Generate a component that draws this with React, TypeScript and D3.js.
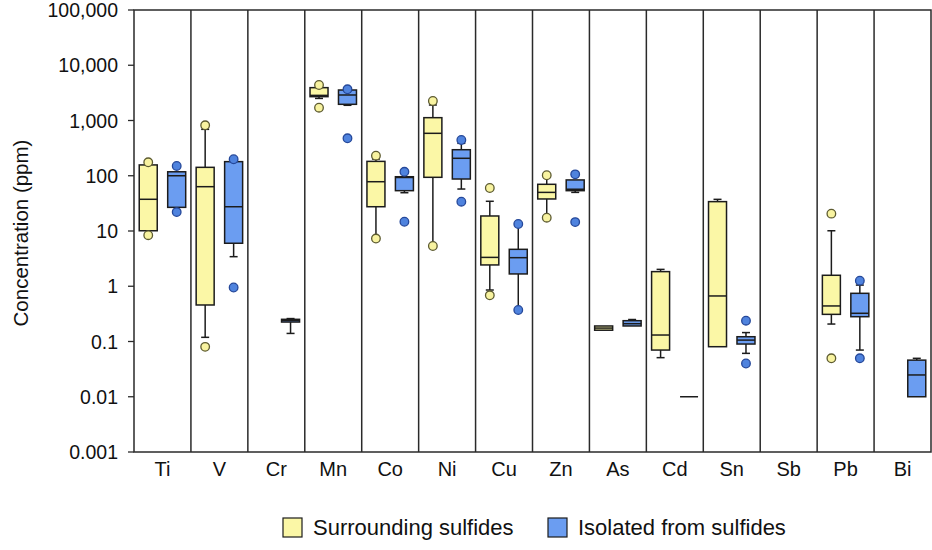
import React from "react";
import * as d3 from "d3";

// Trace-element concentrations (ppm), two groups per element
const elements = ["Ti", "V", "Cr", "Mn", "Co", "Ni", "Cu", "Zn", "As", "Cd", "Sn", "Sb", "Pb", "Bi"];
const seriesNames = ["Surrounding sulfides", "Isolated from sulfides"];
const yTicks = [0.001, 0.01, 0.1, 1, 10, 100, 1000, 10000, 100000];
const yTickLabels = ["0.001", "0.01", "0.1", "1", "10", "100", "1,000", "10,000", "100,000"];

type Box = { lo: number; q1: number; med: number; q3: number; hi: number; out: number[] } | null;

// Surrounding sulfides
const surroundingLow = [10.1, 0.119, null, 2510, 7.3, 5.35, 0.855, 17.4, 0.16, 0.051, 0.0805, null, 0.207, null];
const surroundingQ1 = [10.1, 0.458, null, 2700, 27.5, 93.7, 2.43, 38, 0.16, 0.07, 0.0805, null, 0.31, null];
const surroundingMedian = [37.5, 63.4, null, 2850, 78, 586, 3.33, 50, 0.175, 0.131, 0.667, null, 0.44, null];
const surroundingQ3 = [157, 142, null, 3930, 182, 1125, 18.7, 70, 0.191, 1.84, 34, null, 1.58, null];
const surroundingHigh = [157, 692, null, 3930, 201, 1908, 34.5, 102, 0.191, 2.02, 37.4, null, 10.1, null];
const surroundingOutliers = [[175, 8.4], [818, 0.08], [], [4390, 1706], [231, 7.3], [2254, 5.35], [60, 0.686], [102, 17.4], [], [], [], [], [20.6, 0.0496], []];

// Isolated from sulfides
const isolatedLow = [26.8, 3.43, 0.14, 1884, 49.3, 57.5, 0.372, 50, 0.191, 0.01, 0.061, null, 0.07, 0.01];
const isolatedQ1 = [26.8, 6.0, 0.225, 1963, 53.7, 87.3, 1.67, 53.7, 0.191, 0.01, 0.09, null, 0.281, 0.01];
const isolatedMedian = [100, 27.5, 0.24, 2896, 93, 207, 3.29, 57, 0.21, 0.01, 0.106, null, 0.324, 0.0248];
const isolatedQ3 = [118, 180, 0.252, 3565, 96, 296, 4.66, 84, 0.238, 0.01, 0.122, null, 0.745, 0.046];
const isolatedHigh = [118, 180, 0.26, 3565, 96, 386, 13.4, 84, 0.25, 0.01, 0.145, null, 1.05, 0.0496];
const isolatedOutliers = [[150, 22], [199, 0.95], [], [3670, 476], [118, 14.7], [444, 33.9], [13.4, 0.372], [106, 14.5], [], [], [0.238, 0.04], [], [1.26, 0.0496], []];

function buildBoxes(lo, q1, med, q3, hi, out): Box[] {
  return elements.map((_, i) =>
    med[i] == null ? null : { lo: lo[i], q1: q1[i], med: med[i], q3: q3[i], hi: hi[i], out: out[i] }
  );
}

const groups = [
  {
    name: seriesNames[0],
    boxes: buildBoxes(surroundingLow, surroundingQ1, surroundingMedian, surroundingQ3, surroundingHigh, surroundingOutliers),
    fill: "#fbf7a6",
    dotFill: "#f8f3a0",
    dotStroke: "#5d5b30",
    offset: 0.25,
    legendX: 283,
  },
  {
    name: seriesNames[1],
    boxes: buildBoxes(isolatedLow, isolatedQ1, isolatedMedian, isolatedQ3, isolatedHigh, isolatedOutliers),
    fill: "#6b9df1",
    dotFill: "#4f83de",
    dotStroke: "#25489a",
    offset: 0.75,
    legendX: 548,
  },
];

const W = 932;
const H = 550;
const left = 134;
const right = 931;
const top = 10;
const bottom = 452;
const font = "'Liberation Sans', Arial, Helvetica, sans-serif";
const ink = "#1c1c1c";

export default function App() {
  const x = d3.scaleBand().domain(elements).range([left, right]).paddingInner(0).paddingOuter(0);
  const y = d3.scaleLog().domain([0.001, 100000]).range([bottom, top]);
  const bw = x.bandwidth();
  const boxW = 18;
  const capW = 8;

  return (
    <svg width={W} height={H} style={{ position: "absolute", left: 0, top: 0, background: "#fff" }} fontFamily={font}>
      <rect x={0} y={0} width={W} height={H} fill="#fff" />
      {/* category separators */}
      {elements.map((e, i) =>
        i === 0 ? null : (
          <line key={"sep" + e} x1={x(e)} x2={x(e)} y1={top} y2={bottom} stroke="#2a2a2a" strokeWidth={1.5} />
        )
      )}
      {/* frame */}
      <rect x={left} y={top} width={right - left} height={bottom - top} fill="none" stroke="#2a2a2a" strokeWidth={1.5} />

      {/* y axis ticks */}
      {yTicks.map((t, i) => (
        <g key={"yt" + t}>
          <line x1={left - 6} x2={left} y1={y(t)} y2={y(t)} stroke="#2a2a2a" strokeWidth={1.3} />
          <text x={left - 16} y={y(t)} dy="0.36em" textAnchor="end" fontSize={19.5} fill="#111">
            {yTickLabels[i]}
          </text>
        </g>
      ))}
      <text
        transform={`translate(28, ${(top + bottom) / 2 + 2}) rotate(-90)`}
        textAnchor="middle"
        fontSize={20.5}
        fill="#111"
      >
        Concentration (ppm)
      </text>

      {/* x labels */}
      {elements.map((e) => (
        <text key={"xl" + e} x={x(e) + bw / 2} y={476} textAnchor="middle" fontSize={20} fill="#111">
          {e}
        </text>
      ))}

      {/* boxes */}
      {groups.map((g) =>
        g.boxes.map((b, i) => {
          if (!b) return null;
          const cx = x(elements[i]) + bw * g.offset;
          const yq1 = y(b.q1);
          const yq3 = y(b.q3);
          return (
            <g key={g.name + i}>
              {b.hi > b.q3 && (
                <>
                  <line x1={cx} x2={cx} y1={y(b.hi)} y2={yq3} stroke={ink} strokeWidth={1.5} />
                  <line x1={cx - capW / 2} x2={cx + capW / 2} y1={y(b.hi)} y2={y(b.hi)} stroke={ink} strokeWidth={1.5} />
                </>
              )}
              {b.lo < b.q1 && (
                <>
                  <line x1={cx} x2={cx} y1={yq1} y2={y(b.lo)} stroke={ink} strokeWidth={1.5} />
                  <line x1={cx - capW / 2} x2={cx + capW / 2} y1={y(b.lo)} y2={y(b.lo)} stroke={ink} strokeWidth={1.5} />
                </>
              )}
              <rect
                x={cx - boxW / 2}
                y={yq3}
                width={boxW}
                height={Math.max(yq1 - yq3, 0)}
                fill={g.fill}
                stroke={ink}
                strokeWidth={1.5}
              />
              <line x1={cx - boxW / 2} x2={cx + boxW / 2} y1={y(b.med)} y2={y(b.med)} stroke={ink} strokeWidth={1.5} />
              {b.out.map((o, k) => (
                <circle key={k} cx={cx} cy={y(o)} r={4.3} fill={g.dotFill} stroke={g.dotStroke} strokeWidth={1.3} />
              ))}
            </g>
          );
        })
      )}

      {/* legend */}
      {groups.map((g, i) => (
        <g key={"lg" + i}>
          <rect x={g.legendX} y={518} width={19} height={19} fill={g.fill} stroke={ink} strokeWidth={1.2} />
          <text x={g.legendX + 30} y={535} fontSize={22} fill="#111">
            {g.name}
          </text>
        </g>
      ))}
    </svg>
  );
}
